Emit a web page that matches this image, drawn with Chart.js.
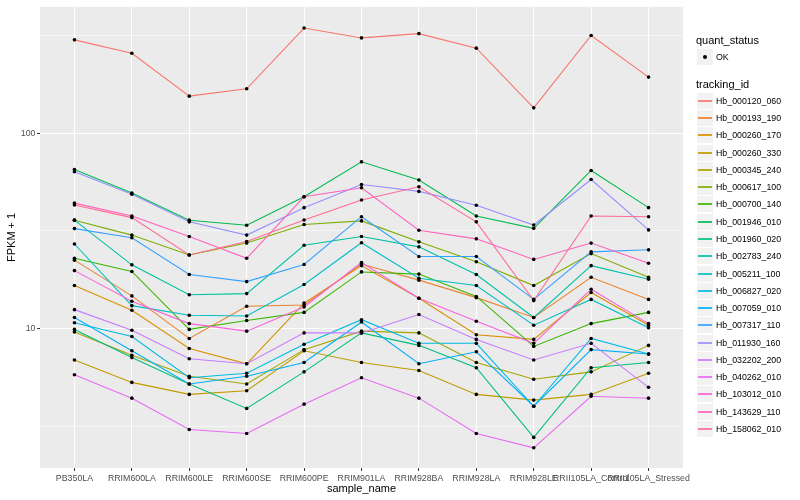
<!DOCTYPE html>
<html>
<head>
<meta charset="utf-8">
<script src="https://cdn.jsdelivr.net/npm/chart.js@4.4.0/dist/chart.umd.min.js"></script>
<style>
    body { margin: 0; background: #fff; }
    #wrap { position: relative; width: 800px; height: 500px; font-family: 'Liberation Sans', Arial, sans-serif; }
    #chart { position: absolute; left: 0; top: 0; }
    .lg-title { position: absolute; left: 696px; font-size: 11px; height: 13px; line-height: 13px; color: #000; white-space: nowrap; }
    .lg-key { position: absolute; left: 697px; width: 16px; height: 16px; background: #F2F2F2; }
    .lg-key .ln { position: absolute; left: 1px; width: 14px; top: 7px; height: 2px; opacity: 0.85; }
    .lg-key .dot { position: absolute; left: 6px; top: 6px; width: 4px; height: 4px; border-radius: 50%; background: #000; }
    .lg-text { position: absolute; left: 716px; font-size: 8.8px; height: 12px; line-height: 12px; color: #000; white-space: nowrap; }
</style>
</head>
<body>
<div id="wrap">
    <canvas id="chart" width="800" height="500"></canvas>
    <div id="legend"></div>
</div>
<script>
const sampleNames = ['PB350LA', 'RRIM600LA', 'RRIM600LE', 'RRIM600SE', 'RRIM600PE', 'RRIM901LA',
    'RRIM928BA', 'RRIM928LA', 'RRIM928LE', 'RRII105LA_Control', 'RRII105LA_Stressed'];

const trackingIds = ['Hb_000120_060', 'Hb_000193_190', 'Hb_000260_170', 'Hb_000260_330', 'Hb_000345_240',
    'Hb_000617_100', 'Hb_000700_140', 'Hb_001946_010', 'Hb_001960_020', 'Hb_002783_240',
    'Hb_005211_100', 'Hb_006827_020', 'Hb_007059_010', 'Hb_007317_110', 'Hb_011930_160',
    'Hb_032202_200', 'Hb_040262_010', 'Hb_103012_010', 'Hb_143629_110', 'Hb_158062_010'];

const trackingColors = ['#F8766D', '#EA8331', '#D89000', '#C09B00', '#A3A500',
    '#7CAE00', '#39B600', '#00BB4E', '#00BF7D', '#00C1A3',
    '#00BFC4', '#00BAE0', '#00B0F6', '#35A2FF', '#9590FF',
    '#C77CFF', '#E76BF3', '#FA62DB', '#FF62BC', '#FF6C91'];

// FPKM + 1, one value per sample
const hb_000120_060 = [301, 257, 155, 169, 346, 308, 324, 273, 135, 317, 194];
const hb_000193_190 = [22.4, 14.7, 8.9, 13.0, 13.2, 21.4, 17.7, 14.4, 11.4, 18.3, 14.1];
const hb_000260_170 = [16.6, 12.4, 7.9, 6.6, 13.5, 21.0, 14.3, 9.3, 8.8, 15.3, 10.4];
const hb_000260_330 = [6.9, 5.3, 4.6, 4.8, 7.7, 6.7, 6.1, 4.6, 4.3, 4.6, 5.9];
const hb_000345_240 = [9.6, 7.3, 5.7, 5.2, 7.8, 9.7, 9.5, 6.7, 5.5, 6.0, 8.2];
const hb_000617_100 = [35.9, 30.1, 23.8, 27.4, 34.1, 35.6, 27.8, 22.0, 16.6, 24.2, 18.3];
const hb_000700_140 = [22.9, 19.6, 9.9, 11.0, 12.1, 19.5, 19.0, 14.6, 8.1, 10.6, 12.1];
const hb_001946_010 = [65.3, 49.4, 35.9, 33.8, 47.3, 71.4, 57.6, 37.7, 32.6, 64.5, 41.6];
const hb_001960_020 = [9.9, 7.1, 5.2, 3.9, 6.0, 9.5, 8.2, 6.3, 2.77, 6.3, 6.7];
const hb_002783_240 = [35.9, 21.2, 14.9, 15.1, 26.7, 29.6, 26.2, 18.9, 11.4, 21.0, 17.9];
const hb_005211_100 = [27.1, 13.1, 11.7, 11.6, 16.8, 27.5, 18.1, 16.6, 10.4, 14.1, 10.1];
const hb_006827_020 = [10.7, 9.1, 5.6, 5.9, 8.3, 11.1, 8.4, 8.4, 4.0, 8.9, 7.4];
const hb_007059_010 = [11.4, 7.7, 5.2, 5.7, 6.7, 10.8, 6.6, 7.6, 4.0, 7.8, 7.4];
const hb_007317_110 = [32.5, 29.2, 18.9, 17.4, 21.3, 37.4, 23.4, 23.4, 14.1, 24.7, 25.3];
const hb_011930_160 = [63.5, 48.7, 35.2, 30.1, 41.6, 54.7, 50.4, 42.8, 33.9, 58.0, 32.0];
const hb_032202_200 = [12.5, 9.8, 7.0, 6.6, 9.5, 9.5, 11.8, 8.8, 6.9, 8.4, 5.0];
const hb_040262_010 = [5.8, 4.4, 3.04, 2.9, 4.1, 5.6, 4.4, 2.9, 2.45, 4.5, 4.4];
const hb_103012_010 = [19.8, 13.8, 10.6, 9.7, 12.9, 21.8, 14.3, 10.9, 8.4, 15.9, 10.6];
const hb_143629_110 = [43.9, 37.7, 29.6, 22.9, 47.3, 52.6, 31.9, 28.8, 22.6, 27.4, 21.6];
const hb_158062_010 = [42.9, 37.0, 23.8, 27.9, 36.0, 45.5, 53.2, 35.2, 13.9, 37.7, 37.4];

const fpkmSeries = [hb_000120_060, hb_000193_190, hb_000260_170, hb_000260_330, hb_000345_240,
    hb_000617_100, hb_000700_140, hb_001946_010, hb_001960_020, hb_002783_240,
    hb_005211_100, hb_006827_020, hb_007059_010, hb_007317_110, hb_011930_160,
    hb_032202_200, hb_040262_010, hb_103012_010, hb_143629_110, hb_158062_010];

const yMajorTicks = [10, 100];
const yMinorTicks = [3.1623, 31.623, 316.23];
const yRange = [1.931, 444.6];

const quantStatus = ['OK'];

function toPoints(values) {
    return values.map((v, i) => ({ x: i, y: v }));
}

function isMajor(v) {
    return yMajorTicks.includes(v);
}

const panelBg = {
    id: 'panelBg',
    beforeDraw(chart) {
        const { ctx, chartArea } = chart;
        ctx.save();
        ctx.fillStyle = '#EBEBEB';
        ctx.fillRect(chartArea.left, chartArea.top, chartArea.right - chartArea.left, chartArea.bottom - chartArea.top);
        ctx.restore();
    }
};

function buildDatasets() {
    const n = fpkmSeries.length;
    const lines = fpkmSeries.map((values, i) => ({
        label: trackingIds[i],
        data: toPoints(values),
        borderColor: trackingColors[i],
        backgroundColor: trackingColors[i],
        borderWidth: 1.07,
        pointRadius: 0,
        tension: 0,
        fill: false,
        order: 1 + (n - i)
    }));

    let allPoints = [];
    fpkmSeries.forEach(values => { allPoints = allPoints.concat(toPoints(values)); });

    const points = {
        label: quantStatus[0],
        data: allPoints,
        showLine: false,
        pointRadius: 1.8,
        pointBorderWidth: 0,
        pointBackgroundColor: '#000',
        pointBorderColor: '#000',
        order: 0
    };
    return [points].concat(lines);
}

function initChart() {
    Chart.defaults.font.family = "'Liberation Sans', Arial, sans-serif";

    const ctx = document.getElementById('chart').getContext('2d');
    new Chart(ctx, {
        type: 'line',
        data: { datasets: buildDatasets() },
        options: {
            responsive: false,
            animation: false,
            layout: { padding: { top: 5, right: 117, left: 0, bottom: 0 } },
            plugins: {
                legend: { display: false },
                tooltip: { enabled: false }
            },
            scales: {
                x: {
                    type: 'linear',
                    min: -0.6,
                    max: sampleNames.length - 1 + 0.6,
                    afterBuildTicks: scale => {
                        scale.ticks = sampleNames.map((s, i) => ({ value: i }));
                    },
                    afterFit: scale => { scale.height = 32; },
                    border: { display: false },
                    grid: {
                        color: '#FFFFFF',
                        lineWidth: 1.07,
                        tickLength: 3,
                        tickColor: '#333333',
                        tickWidth: 1
                    },
                    ticks: {
                        autoSkip: false,
                        maxRotation: 0,
                        minRotation: 0,
                        padding: 2,
                        color: '#4D4D4D',
                        font: { size: 8.8 },
                        callback: v => sampleNames[v]
                    },
                    title: {
                        display: true,
                        text: 'sample_name',
                        color: '#000',
                        font: { size: 11 },
                        padding: { top: 0, bottom: 4 }
                    }
                },
                y: {
                    type: 'logarithmic',
                    min: yRange[0],
                    max: yRange[1],
                    afterBuildTicks: scale => {
                        scale.ticks = yMinorTicks.concat(yMajorTicks).sort((a, b) => a - b).map(v => ({ value: v }));
                    },
                    afterFit: scale => { scale.width = 40; },
                    border: { display: false },
                    grid: {
                        color: '#FFFFFF',
                        lineWidth: c => (c.tick && isMajor(c.tick.value)) ? 1.07 : 0.53,
                        tickLength: 3,
                        tickColor: c => (c.tick && isMajor(c.tick.value)) ? '#333333' : 'rgba(0,0,0,0)',
                        tickWidth: 1
                    },
                    ticks: {
                        padding: 1.5,
                        color: '#4D4D4D',
                        font: { size: 8.8 },
                        callback: v => isMajor(v) ? String(v) : ''
                    },
                    title: {
                        display: true,
                        text: 'FPKM + 1',
                        color: '#000',
                        font: { size: 11 },
                        padding: { top: 5, bottom: 0 }
                    }
                }
            }
        },
        plugins: [panelBg]
    });
}

function initLegend() {
    const legend = document.getElementById('legend');
    const rowStep = 17.28;
    let html = '';

    html += '<div class="lg-title" style="top:34px">quant_status</div>';
    html += '<div class="lg-key" style="top:49px"><div class="dot"></div></div>';
    html += '<div class="lg-text" style="top:51px">' + quantStatus[0] + '</div>';

    html += '<div class="lg-title" style="top:77.5px">tracking_id</div>';
    trackingIds.forEach((id, i) => {
        const center = Math.round(100.7 + rowStep * i);
        html += '<div class="lg-key" style="top:' + (center - 8) + 'px">' +
            '<div class="ln" style="background:' + trackingColors[i] + '"></div></div>';
        html += '<div class="lg-text" style="top:' + (center - 6) + 'px">' + id + '</div>';
    });
    legend.innerHTML = html;
}

document.addEventListener('DOMContentLoaded', function() {
    initChart();
    initLegend();
});
</script>
</body>
</html>
